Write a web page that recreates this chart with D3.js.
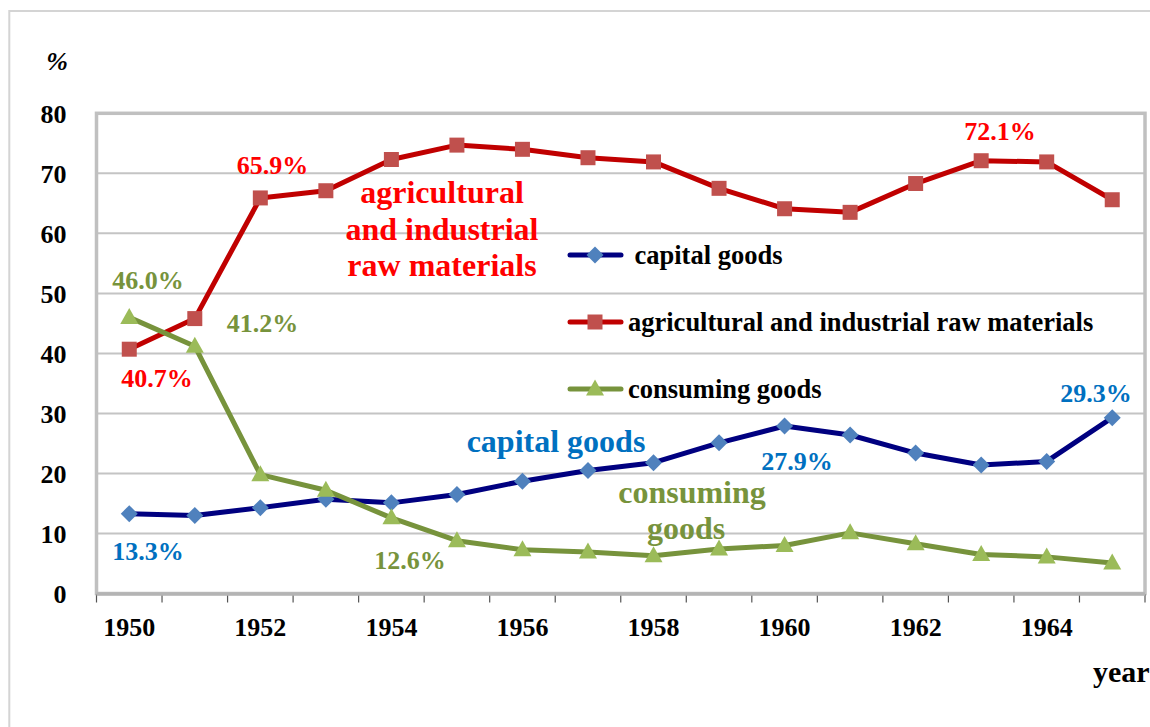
<!DOCTYPE html>
<html>
<head>
<meta charset="utf-8">
<script src="https://cdn.jsdelivr.net/npm/d3@7"></script>
<style>
  html, body { margin: 0; padding: 0; background: #fff; overflow: hidden; }
</style>
</head>
<body>
<svg id="chart" width="1150" height="727"></svg>
<script>
// Years shown on the category axis
const years = [1950, 1951, 1952, 1953, 1954, 1955, 1956, 1957, 1958, 1959, 1960, 1961, 1962, 1963, 1964, 1965];
// Share of imports by commodity group, %
const capitalGoods  = [13.3, 13.0, 14.3, 15.7, 15.1, 16.5, 18.7, 20.5, 21.8, 25.1, 27.9, 26.4, 23.4, 21.4, 22.0, 29.3];
const rawMaterials  = [40.7, 45.8, 65.9, 67.1, 72.3, 74.7, 74.0, 72.6, 71.9, 67.5, 64.1, 63.5, 68.3, 72.1, 71.9, 65.6];
const consumingGoods = [46.0, 41.2, 19.8, 17.2, 12.6, 8.8, 7.3, 6.9, 6.3, 7.4, 8.0, 10.1, 8.3, 6.5, 6.1, 5.1];
const yTicks = [0, 10, 20, 30, 40, 50, 60, 70, 80];
const xTickLabels = [1950, 1952, 1954, 1956, 1958, 1960, 1962, 1964];
const seriesNames = ["capital goods", "agricultural and industrial raw materials", "consuming goods"];

const FONT = "Liberation Serif";
const svg = d3.select("#chart");
const plot = { left: 96.5, top: 113.3, right: 1145, bottom: 593.5 };

// outer chart frame
svg.append("rect").attr("x", 9.3).attr("y", 11).attr("width", 1300).attr("height", 900)
  .attr("fill", "none").attr("stroke", "#d4d4d4").attr("stroke-width", 2);

const x = d3.scaleBand().domain(years).range([plot.left, plot.right]);
const y = d3.scaleLinear().domain([0, 80]).range([plot.bottom, plot.top]);
const cx = yr => x(yr) + x.bandwidth() / 2;

// horizontal gridlines
svg.append("g").selectAll("line").data(yTicks.filter(v => v > 0 && v < 80)).join("line")
  .attr("x1", plot.left).attr("x2", plot.right)
  .attr("y1", d => y(d)).attr("y2", d => y(d))
  .attr("stroke", "#c4c4c4").attr("stroke-width", 2);

// plot area border
svg.append("rect").attr("x", plot.left).attr("y", plot.top)
  .attr("width", plot.right - plot.left).attr("height", plot.bottom - plot.top)
  .attr("fill", "none").attr("stroke", "#c0c0c0").attr("stroke-width", 3.5);

// y axis labels
svg.append("g").selectAll("text").data(yTicks).join("text")
  .attr("x", 66.5).attr("y", d => y(d) + 9.5)
  .attr("text-anchor", "end").attr("font-size", 26).attr("fill", "#000")
  .attr("font-family", FONT).attr("font-weight", "bold")
  .text(d => d);

svg.append("text").attr("x", 57).attr("y", 70).attr("text-anchor", "middle")
  .attr("font-family", FONT).attr("font-weight", "bold")
  .attr("font-size", 26).attr("font-style", "italic").text("%");

// x axis: tick marks on category boundaries
const tickPos = years.map(yr => x(yr)).concat([plot.right]);
svg.append("g").selectAll("line").data(tickPos).join("line")
  .attr("x1", d => d).attr("x2", d => d)
  .attr("y1", plot.bottom + 1).attr("y2", plot.bottom + 9)
  .attr("stroke", "#555").attr("stroke-width", 1.2);
svg.append("line").attr("x1", plot.left).attr("x2", plot.right)
  .attr("y1", plot.bottom + 0.5).attr("y2", plot.bottom + 0.5)
  .attr("stroke", "#b4b4b4").attr("stroke-width", 3.5);

svg.append("g").selectAll("text").data(xTickLabels).join("text")
  .attr("x", d => cx(d)).attr("y", 636)
  .attr("text-anchor", "middle").attr("font-size", 26).attr("fill", "#000")
  .attr("font-family", FONT).attr("font-weight", "bold")
  .text(d => d);

svg.append("text").attr("x", 1093).attr("y", 682).attr("font-size", 30)
  .attr("font-family", FONT).attr("font-weight", "bold").text("year");

// series
const series = [
  { name: seriesNames[0], values: capitalGoods, line: "#000080", marker: "#4F81BD", shape: "diamond" },
  { name: seriesNames[1], values: rawMaterials, line: "#C00000", marker: "#C0504D", shape: "square" },
  { name: seriesNames[2], values: consumingGoods, line: "#77933C", marker: "#9BBB59", shape: "triangle" }
];

const markerPath = {
  diamond: "M0,-8.5L8.5,0L0,8.5L-8.5,0Z",
  square: "M-7.5,-7.5H7.5V7.5H-7.5Z",
  triangle: "M0,-9.5L9,6.5L-9,6.5Z"
};

const lineGen = d3.line().x(d => cx(d[0])).y(d => y(d[1]));

series.forEach(s => {
  const pts = years.map((yr, i) => [yr, s.values[i]]);
  svg.append("path").datum(pts).attr("d", lineGen)
    .attr("fill", "none").attr("stroke", s.line).attr("stroke-width", 5)
    .attr("stroke-linejoin", "round");
  svg.append("g").selectAll("path").data(pts).join("path")
    .attr("transform", d => `translate(${cx(d[0])},${y(d[1])})`)
    .attr("d", markerPath[s.shape]).attr("fill", s.marker);
});

// legend
const legendY = [255, 322, 389];
const legendTextX = [634.5, 628, 628];
series.forEach((s, i) => {
  const g = svg.append("g");
  g.append("line").attr("x1", 570).attr("x2", 621).attr("y1", legendY[i]).attr("y2", legendY[i])
    .attr("stroke", s.line).attr("stroke-width", 5).attr("stroke-linecap", "round");
  g.append("path").attr("transform", `translate(595,${legendY[i]})`)
    .attr("d", markerPath[s.shape]).attr("fill", s.marker);
  g.append("text").attr("x", legendTextX[i]).attr("y", legendY[i] + 9)
    .attr("font-family", FONT).attr("font-weight", "bold")
    .attr("font-size", 26.5).attr("fill", "#000").text(s.name);
});

// value annotations
const pct = v => v.toFixed(1) + "%";
const idx = yr => years.indexOf(yr);
const valueLabels = [
  { v: rawMaterials[idx(1952)], x: 272.5, y: 174, c: "#FF0000" },
  { v: rawMaterials[idx(1950)], x: 157, y: 387, c: "#FF0000" },
  { v: rawMaterials[idx(1963)], x: 1000, y: 139.5, c: "#FF0000" },
  { v: consumingGoods[idx(1950)], x: 148, y: 288.5, c: "#77933C" },
  { v: consumingGoods[idx(1951)], x: 262.5, y: 331.5, c: "#77933C" },
  { v: consumingGoods[idx(1954)], x: 410, y: 568.5, c: "#77933C" },
  { v: capitalGoods[idx(1950)], x: 148, y: 560, c: "#0070C0" },
  { v: capitalGoods[idx(1960)], x: 797, y: 470, c: "#0070C0" },
  { v: capitalGoods[idx(1965)], x: 1096, y: 401.5, c: "#0070C0" }
];
svg.append("g").selectAll("text").data(valueLabels).join("text")
  .attr("x", d => d.x).attr("y", d => d.y).attr("text-anchor", "middle")
  .attr("font-family", FONT).attr("font-weight", "bold")
  .attr("font-size", 26).attr("fill", d => d.c).text(d => pct(d.v));

// series name annotations
const nameLabels = [
  { t: "agricultural", x: 442, y: 203, c: "#FF0000" },
  { t: "and industrial", x: 442, y: 240, c: "#FF0000" },
  { t: "raw materials", x: 442, y: 276, c: "#FF0000" },
  { t: "capital goods", x: 556, y: 452, c: "#0070C0" },
  { t: "consuming", x: 692, y: 503, c: "#77933C" },
  { t: "goods", x: 686, y: 539, c: "#77933C" }
];
svg.append("g").selectAll("text").data(nameLabels).join("text")
  .attr("x", d => d.x).attr("y", d => d.y).attr("text-anchor", "middle")
  .attr("font-family", FONT).attr("font-weight", "bold")
  .attr("font-size", 32).attr("fill", d => d.c).text(d => d.t);
</script>
</body>
</html>
